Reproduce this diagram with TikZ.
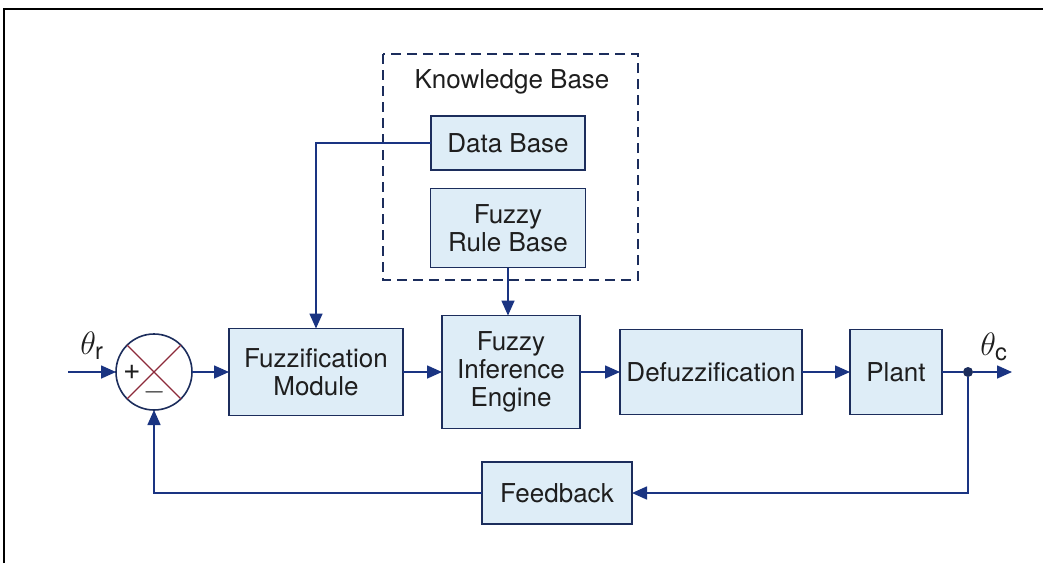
\documentclass[tikz,border=0pt]{standalone}
\usepackage{fontspec}
\setmainfont{TeX Gyre Heros}
\usetikzlibrary{arrows.meta}

\definecolor{c1c2d5c}{RGB}{28,45,92}
\definecolor{c1a3a8c}{RGB}{26,52,130}
\definecolor{cdcebf6}{RGB}{222,237,247}
\definecolor{c8c2a3a}{RGB}{140,42,58}
\definecolor{c222222}{RGB}{30,30,30}

\begin{document}
\begin{tikzpicture}[y=1pt, x=1pt, yscale=-1, inner sep=0pt, outer sep=0pt,
  every node/.style={font=\fontsize{26}{28}\selectfont, text=c222222,
    align=center},
  block/.style={draw=c1c2d5c, fill=cdcebf6, line width=1.6pt},
  flow/.style={draw=c1a3a8c, line width=1.6pt,
    -{Triangle[length=15pt,width=13pt]}},
  wire/.style={draw=c1a3a8c, line width=1.6pt}]
\useasboundingbox (0,0) rectangle (1043,563);
\path[draw=black, line width=2.5pt] (4,563) -- (4,9) -- (1043,9);

\path[draw=c1c2d5c, dash pattern=on 10pt off 6pt, line width=1.6pt]
  (383,54) rectangle (638,280);
\node (kb) at (512,82) {Knowledge Base};
\node[block, minimum width=154pt, minimum height=54pt] (db) at (508,143)
  {Data Base};
\node[block, minimum width=155pt, minimum height=79pt] (rb) at (508,228)
  {Fuzzy\\Rule Base};

\node[circle, draw=c1c2d5c, fill=white, line width=1.6pt, minimum size=76pt]
  (sum) at (154,372) {};
\path[draw=c8c2a3a, line width=1.2pt] (sum.north west) -- (sum.south east)
  (sum.north east) -- (sum.south west);
\node (plus) at (132,372) {\fontsize{30}{32}\selectfont +};
\node[scale=1.15] (minus) at (155,392) {$-$};
\node[scale=1.3] (thr) at (92,346) {$\theta_{\mathrm{r}}$};

\node[block, minimum width=174pt, minimum height=87pt] (fuzz) at (316,372)
  {Fuzzification\\Module};
\node[block, minimum width=138pt, minimum height=113pt] (fie) at (511,372)
  {Fuzzy\\Inference\\Engine};
\node[block, minimum width=182pt, minimum height=85pt] (defuzz) at (711,372)
  {Defuzzification};
\node[block, minimum width=92pt, minimum height=85pt] (plant) at (896,372)
  {Plant};
\node[block, minimum width=150pt, minimum height=62pt] (fb) at (557,493)
  {Feedback};

\node[circle, fill=c1c2d5c, minimum size=10pt] (tap) at (968,372) {};
\node[scale=1.3] (thc) at (994,347) {$\theta_{\mathrm{c}}$};
\coordinate (in) at (68,372);
\coordinate (out) at (1012,372);

\draw[flow] (in) -- (sum.west);
\draw[flow] (sum.east) -- (fuzz.west);
\draw[flow] (fuzz.east) -- (fie.west);
\draw[flow] (fie.east) -- (defuzz.west);
\draw[flow] (defuzz.east) -- (plant.west);
\draw[wire] (plant.east) -- (tap);
\draw[flow] (tap) -- (out);
\draw[flow] (tap) |- (fb.east);
\draw[flow] (fb.west) -| (sum.south);
\draw[flow] (db.west) -| (fuzz.north);
\draw[flow] (rb.south) -- (rb.south |- fie.north);
\end{tikzpicture}
\end{document}
